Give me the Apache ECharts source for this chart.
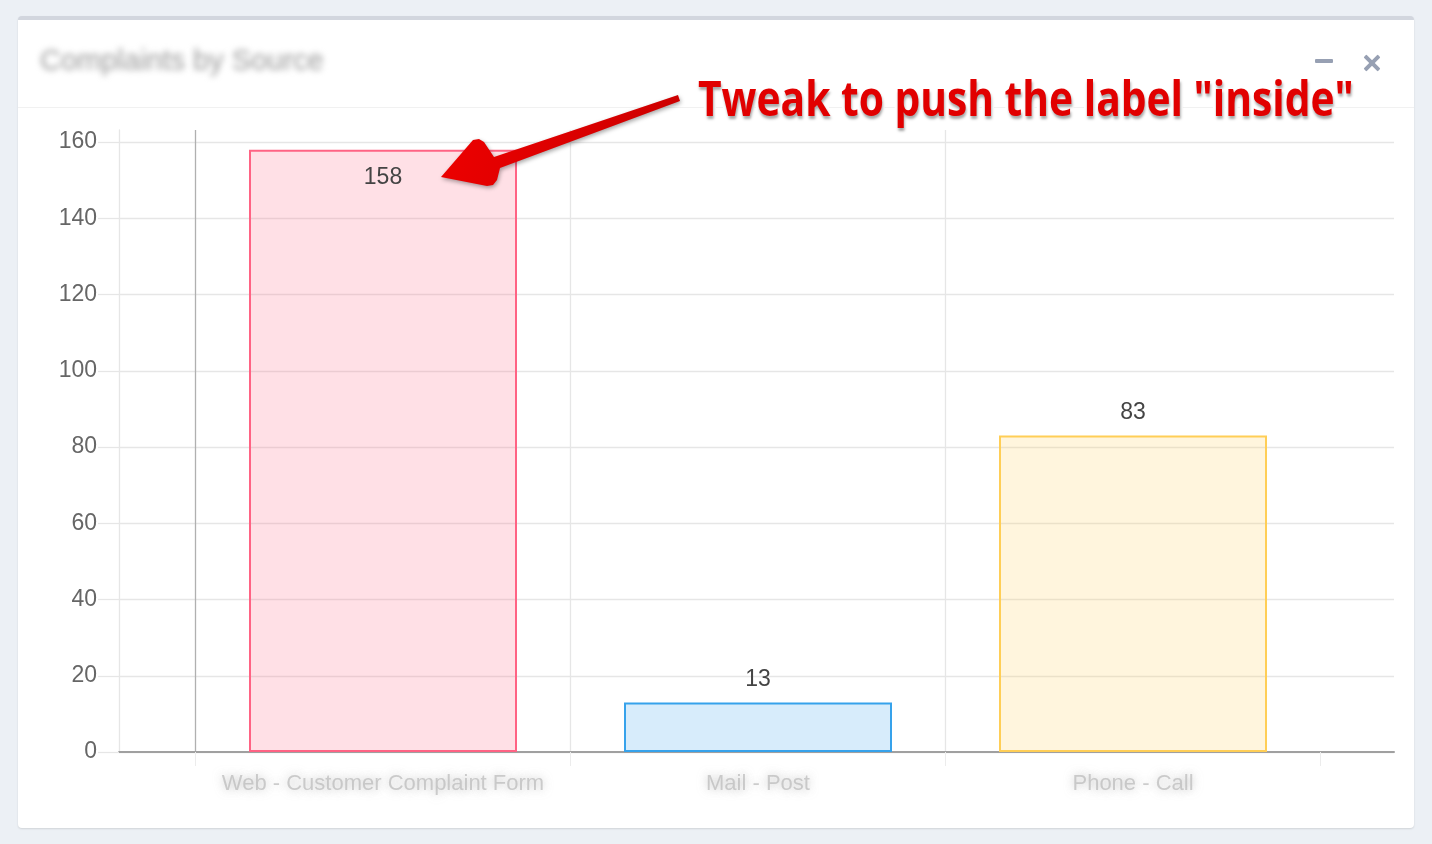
<!DOCTYPE html>
<html>
<head>
<meta charset="utf-8">
<script src="https://cdn.jsdelivr.net/npm/echarts@6/dist/echarts.min.js"></script>
<style>
  html, body { margin: 0; padding: 0; }
  body { width: 1432px; height: 844px; background: #ecf0f5; position: relative; overflow: hidden;
         font-family: "Liberation Sans", Arial, sans-serif; }
  .box { position: absolute; left: 18px; top: 16px; width: 1396px; height: 808px;
         background: #fff; border-top: 4px solid #d2d6de; border-radius: 4px;
         box-shadow: 0 1px 2px rgba(0,0,0,0.12); }
  .box-header { position: absolute; left: 0; right: 0; top: 0; height: 87px; border-bottom: 1px solid #f1f1f1; }
  .box-title { position: absolute; left: 22px; top: 24px; font-size: 29px; color: #999;
               filter: blur(3px); }
  .tool-min { position: absolute; left: 1297px; top: 39px; width: 18px; height: 4px; background: #97a0b3; border-radius: 1px; }
  .tool-x { position: absolute; left: 1345px; top: 34px; width: 18px; height: 18px; }
  .tool-x:before, .tool-x:after { content: ""; position: absolute; left: -1px; top: 7px; width: 20px; height: 4px;
               background: #97a0b3; border-radius: 1px; }
  .tool-x:before { transform: rotate(45deg); }
  .tool-x:after { transform: rotate(-45deg); }
  #chart { position: absolute; left: 0; top: 0; width: 1432px; height: 844px; }
  #note { position: absolute; left: 698px; top: 69px; white-space: nowrap; transform-origin: 0 0;
          font-family: "Open Sans", sans-serif; font-weight: 700; font-size: 48px; line-height: 58px;
          color: #e10000; -webkit-text-stroke: 7px #fff; paint-order: stroke fill;
          text-shadow: 1px 3px 3px rgba(0,0,0,0.35); }
</style>
</head>
<body>
<div class="box">
  <div class="box-header">
    <div class="box-title">Complaints by Source</div>
    <div class="tool-min"></div>
    <div class="tool-x"></div>
  </div>
</div>
<div id="chart"></div>
<div id="note">Tweak to push the label "inside"</div>
<script>
// data
var categories = ["Web - Customer Complaint Form", "Mail - Post", "Phone - Call"];
var counts = [158, 13, 83];
var yTicks = { min: 0, max: 160, step: 20 };

// styles
var fills = ["rgba(255,99,132,0.2)", "rgba(54,162,235,0.2)", "rgba(255,206,86,0.2)"];
var borders = ["rgb(255,99,132)", "rgb(54,162,235)", "rgb(255,206,86)"];
var gridColor = "#e6e6e6";
var zeroColor = "#b0b0b0";

// layout (page pixels)
var plotLeft = 119, plotRight = 1394, plotTop = 142, lineTop = 130, axisY = 752;
var catLeft = 195.5, catRight = 1320.5;
var W = 1432, H = 844;

// bars grid starts a bit higher (vertical lines stick out), keep same scale
var barMax = yTicks.max * (axisY - lineTop) / (axisY - plotTop);

var note = document.getElementById("note");
note.style.transform = "scaleX(" + (656 / note.offsetWidth) + ")";

var chart = echarts.init(document.getElementById("chart"));

var barData = counts.map(function (v, i) {
  var inside = v > yTicks.max * 0.9;
  return {
    value: v,
    itemStyle: { color: fills[i], borderColor: borders[i], borderWidth: 2 },
    label: { position: inside ? "insideTop" : "top", distance: inside ? 17 : 11 }
  };
});

chart.setOption({
  animation: false,
  grid: [
    { left: plotLeft, right: W - plotRight, top: plotTop, bottom: H - axisY },
    { left: catLeft, right: W - catRight, top: lineTop, bottom: H - axisY }
  ],
  xAxis: [
    {
      gridIndex: 0, type: "value", min: 0, max: 1,
      axisLine: { show: true, lineStyle: { color: "#a0a0a0", width: 2 } },
      axisTick: { show: false }, axisLabel: { show: false }, splitLine: { show: false }
    },
    {
      gridIndex: 1, type: "category", data: categories,
      axisLine: { show: false },
      axisTick: {
        show: true, length: 14, lineStyle: { color: "#ececec" },
        interval: function (idx) { return idx < categories.length; }
      },
      axisLabel: {
        interval: 0, margin: 21, fontSize: 22, color: "rgba(185,185,185,0.7)",
        fontFamily: "Liberation Sans",
        textShadowColor: "rgba(150,150,150,0.9)", textShadowBlur: 10
      },
      splitLine: {
        show: true, interval: 0, showMaxLine: false,
        lineStyle: { color: [zeroColor, gridColor, gridColor], width: 1.3 }
      }
    }
  ],
  yAxis: [
    {
      gridIndex: 0, type: "value", min: yTicks.min, max: yTicks.max, interval: yTicks.step,
      axisLine: { show: false },
      axisTick: { show: true, length: 21, lineStyle: { color: gridColor, width: 1.3 } },
      axisLabel: { margin: 22, fontSize: 23, color: "#666", fontFamily: "Liberation Sans", padding: [4, 0, 0, 0] },
      splitLine: { show: true, lineStyle: { color: gridColor, width: 1.3 } }
    },
    {
      gridIndex: 1, type: "value", min: yTicks.min, max: barMax,
      offset: catLeft - plotLeft,
      axisLine: { show: true, lineStyle: { color: gridColor, width: 1.3 } },
      axisTick: { show: false }, axisLabel: { show: false }, splitLine: { show: false }
    }
  ],
  series: [{
    type: "bar",
    xAxisIndex: 1, yAxisIndex: 1,
    barWidth: 268,
    data: barData,
    label: { show: true, fontSize: 23, color: "#444", fontFamily: "Liberation Sans" }
  }],
  graphic: [{
    type: "polygon",
    z: 100,
    shape: {
      points: [[678, 95], [494, 157], [484, 142], [479, 139], [473, 140], [441, 177],
               [487, 186], [493, 185], [497, 180], [500, 168], [680, 101]]
    },
    style: {
      fill: new echarts.graphic.LinearGradient(0, 0, 1, 1, [
        { offset: 0, color: "#f00000" }, { offset: 1, color: "#c80000" }
      ]),
      shadowColor: "rgba(0,0,0,0.35)", shadowBlur: 4, shadowOffsetX: 1, shadowOffsetY: 2
    }
  }]
});
</script>
</body>
</html>
